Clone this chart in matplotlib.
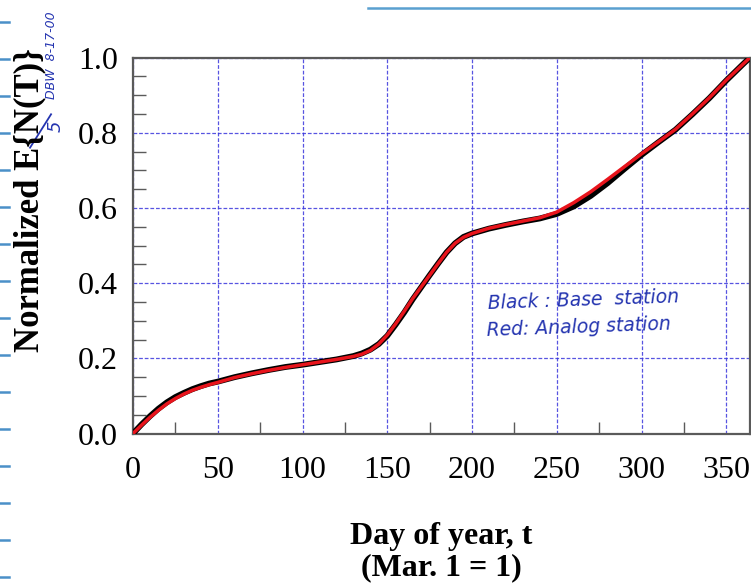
import matplotlib
matplotlib.use("Agg")
import matplotlib.pyplot as plt
from matplotlib.lines import Line2D
from matplotlib.ticker import MultipleLocator

# Day of year (Mar. 1 = 1)
days = [0, 5, 10, 15, 20, 25, 30, 35, 40, 45, 50, 60, 70, 80, 90, 100, 110,
        120, 130, 135, 140, 145, 150, 155, 160, 165, 170, 175, 180, 185, 190,
        195, 200, 210, 220, 230, 240, 250, 260, 270, 280, 290, 300, 310, 320,
        330, 340, 350, 360, 364]

# Normalized expected cumulative count, analog station (red)
analog = [0.000, 0.022, 0.043, 0.062, 0.079, 0.093, 0.105, 0.115, 0.123, 0.130,
          0.136, 0.149, 0.159, 0.168, 0.176, 0.183, 0.190, 0.197, 0.205, 0.211,
          0.221, 0.238, 0.262, 0.292, 0.325, 0.359, 0.390, 0.421, 0.452, 0.482,
          0.506, 0.522, 0.532, 0.546, 0.556, 0.565, 0.574, 0.589, 0.614, 0.643,
          0.676, 0.710, 0.744, 0.776, 0.809, 0.850, 0.893, 0.940, 0.983, 1.000]

# Normalized expected cumulative count, base station (black)
base = [0.000, 0.024, 0.046, 0.066, 0.083, 0.097, 0.108, 0.118, 0.126, 0.133,
        0.138, 0.150, 0.160, 0.169, 0.177, 0.183, 0.190, 0.197, 0.206, 0.213,
        0.223, 0.238, 0.260, 0.290, 0.322, 0.357, 0.389, 0.421, 0.452, 0.482,
        0.506, 0.523, 0.532, 0.545, 0.555, 0.564, 0.572, 0.584, 0.604, 0.632,
        0.666, 0.704, 0.741, 0.775, 0.808, 0.849, 0.892, 0.939, 0.983, 1.000]

x_ticks = [0, 50, 100, 150, 200, 250, 300, 350]
y_ticks = [0.0, 0.2, 0.4, 0.6, 0.8, 1.0]

SERIF = ["Liberation Serif", "DejaVu Serif"]
PEN = "#2434b0"
GRID = "#3a36dc"
AXIS = "#5a5a5a"

fig = plt.figure(figsize=(7.51, 5.86), dpi=100)
fig.patch.set_facecolor("white")
ax = fig.add_axes([0.1771, 0.2602, 0.8216, 0.6416])

ax.plot(days, base, color="black", lw=4.2, solid_capstyle="round", zorder=3)
ax.plot(days, analog, color="#e8141c", lw=2.5, solid_capstyle="round", zorder=4)

ax.set_xlim(0, 364)
ax.set_ylim(0, 1.0)
ax.set_xticks(x_ticks)
ax.set_yticks(y_ticks)
ax.set_yticklabels([f"{v:.1f}" for v in y_ticks])
ax.xaxis.set_minor_locator(MultipleLocator(25))
ax.yaxis.set_minor_locator(MultipleLocator(0.05))

ax.grid(True, which="major", color=GRID, lw=0.9, ls=(0, (3, 1.5)), alpha=0.85)
ax.tick_params(which="minor", direction="in", color=AXIS, width=1.0,
               length=9, top=False, right=False)
ax.tick_params(axis="x", which="major", direction="in", length=0, pad=16,
               labelsize=23)
ax.tick_params(axis="y", which="major", direction="in", length=0, pad=11,
               labelsize=23)
for lab in ax.get_xticklabels() + ax.get_yticklabels():
    lab.set_fontfamily(SERIF)
for sp in ax.spines.values():
    sp.set_color(AXIS)
    sp.set_linewidth(1.6)

# Axis titles
fig.text(0.588, 0.084, "Day of year, t", ha="center", va="center",
         fontfamily=SERIF, fontweight="bold", fontsize=23)
fig.text(0.588, 0.031, "(Mar. 1 = 1)", ha="center", va="center",
         fontfamily=SERIF, fontweight="bold", fontsize=23)
fig.text(0.040, 0.659, "Normalized E{N(T)}", ha="center", va="center",
         rotation=90, fontfamily=SERIF, fontweight="bold", fontsize=25)

# Pen notes on the sheet
ax.text(0.575, 0.355, "Black : Base  station", transform=ax.transAxes,
        color=PEN, fontsize=13.5, style="italic", fontfamily="DejaVu Sans",
        rotation=2, ha="left", va="center")
ax.text(0.572, 0.283, "Red: Analog station", transform=ax.transAxes,
        color=PEN, fontsize=13.5, style="italic", fontfamily="DejaVu Sans",
        rotation=2, ha="left", va="center")
fig.text(0.069, 0.905, "DBW  8-17-00", color=PEN, fontsize=9, style="italic",
         rotation=90, ha="center", va="center")
fig.text(0.074, 0.785, "5", color=PEN, fontsize=13, style="italic",
         rotation=90, ha="center", va="center")
fig.add_artist(Line2D([0.040, 0.068], [0.748, 0.805], color=PEN, lw=1.3,
                      transform=fig.transFigure))

# Ruled-paper marks along the sheet edges
for yp in range(22, 586, 37):
    fig.add_artist(Line2D([0.0, 0.012], [1 - yp / 586, 1 - yp / 586],
                          color="#4a90c8", lw=1.8, transform=fig.transFigure))
fig.add_artist(Line2D([0.49, 1.0], [0.986, 0.986], color="#5aa0d0", lw=1.8,
                      transform=fig.transFigure))

fig.savefig("out.png", dpi=100, facecolor="white")
